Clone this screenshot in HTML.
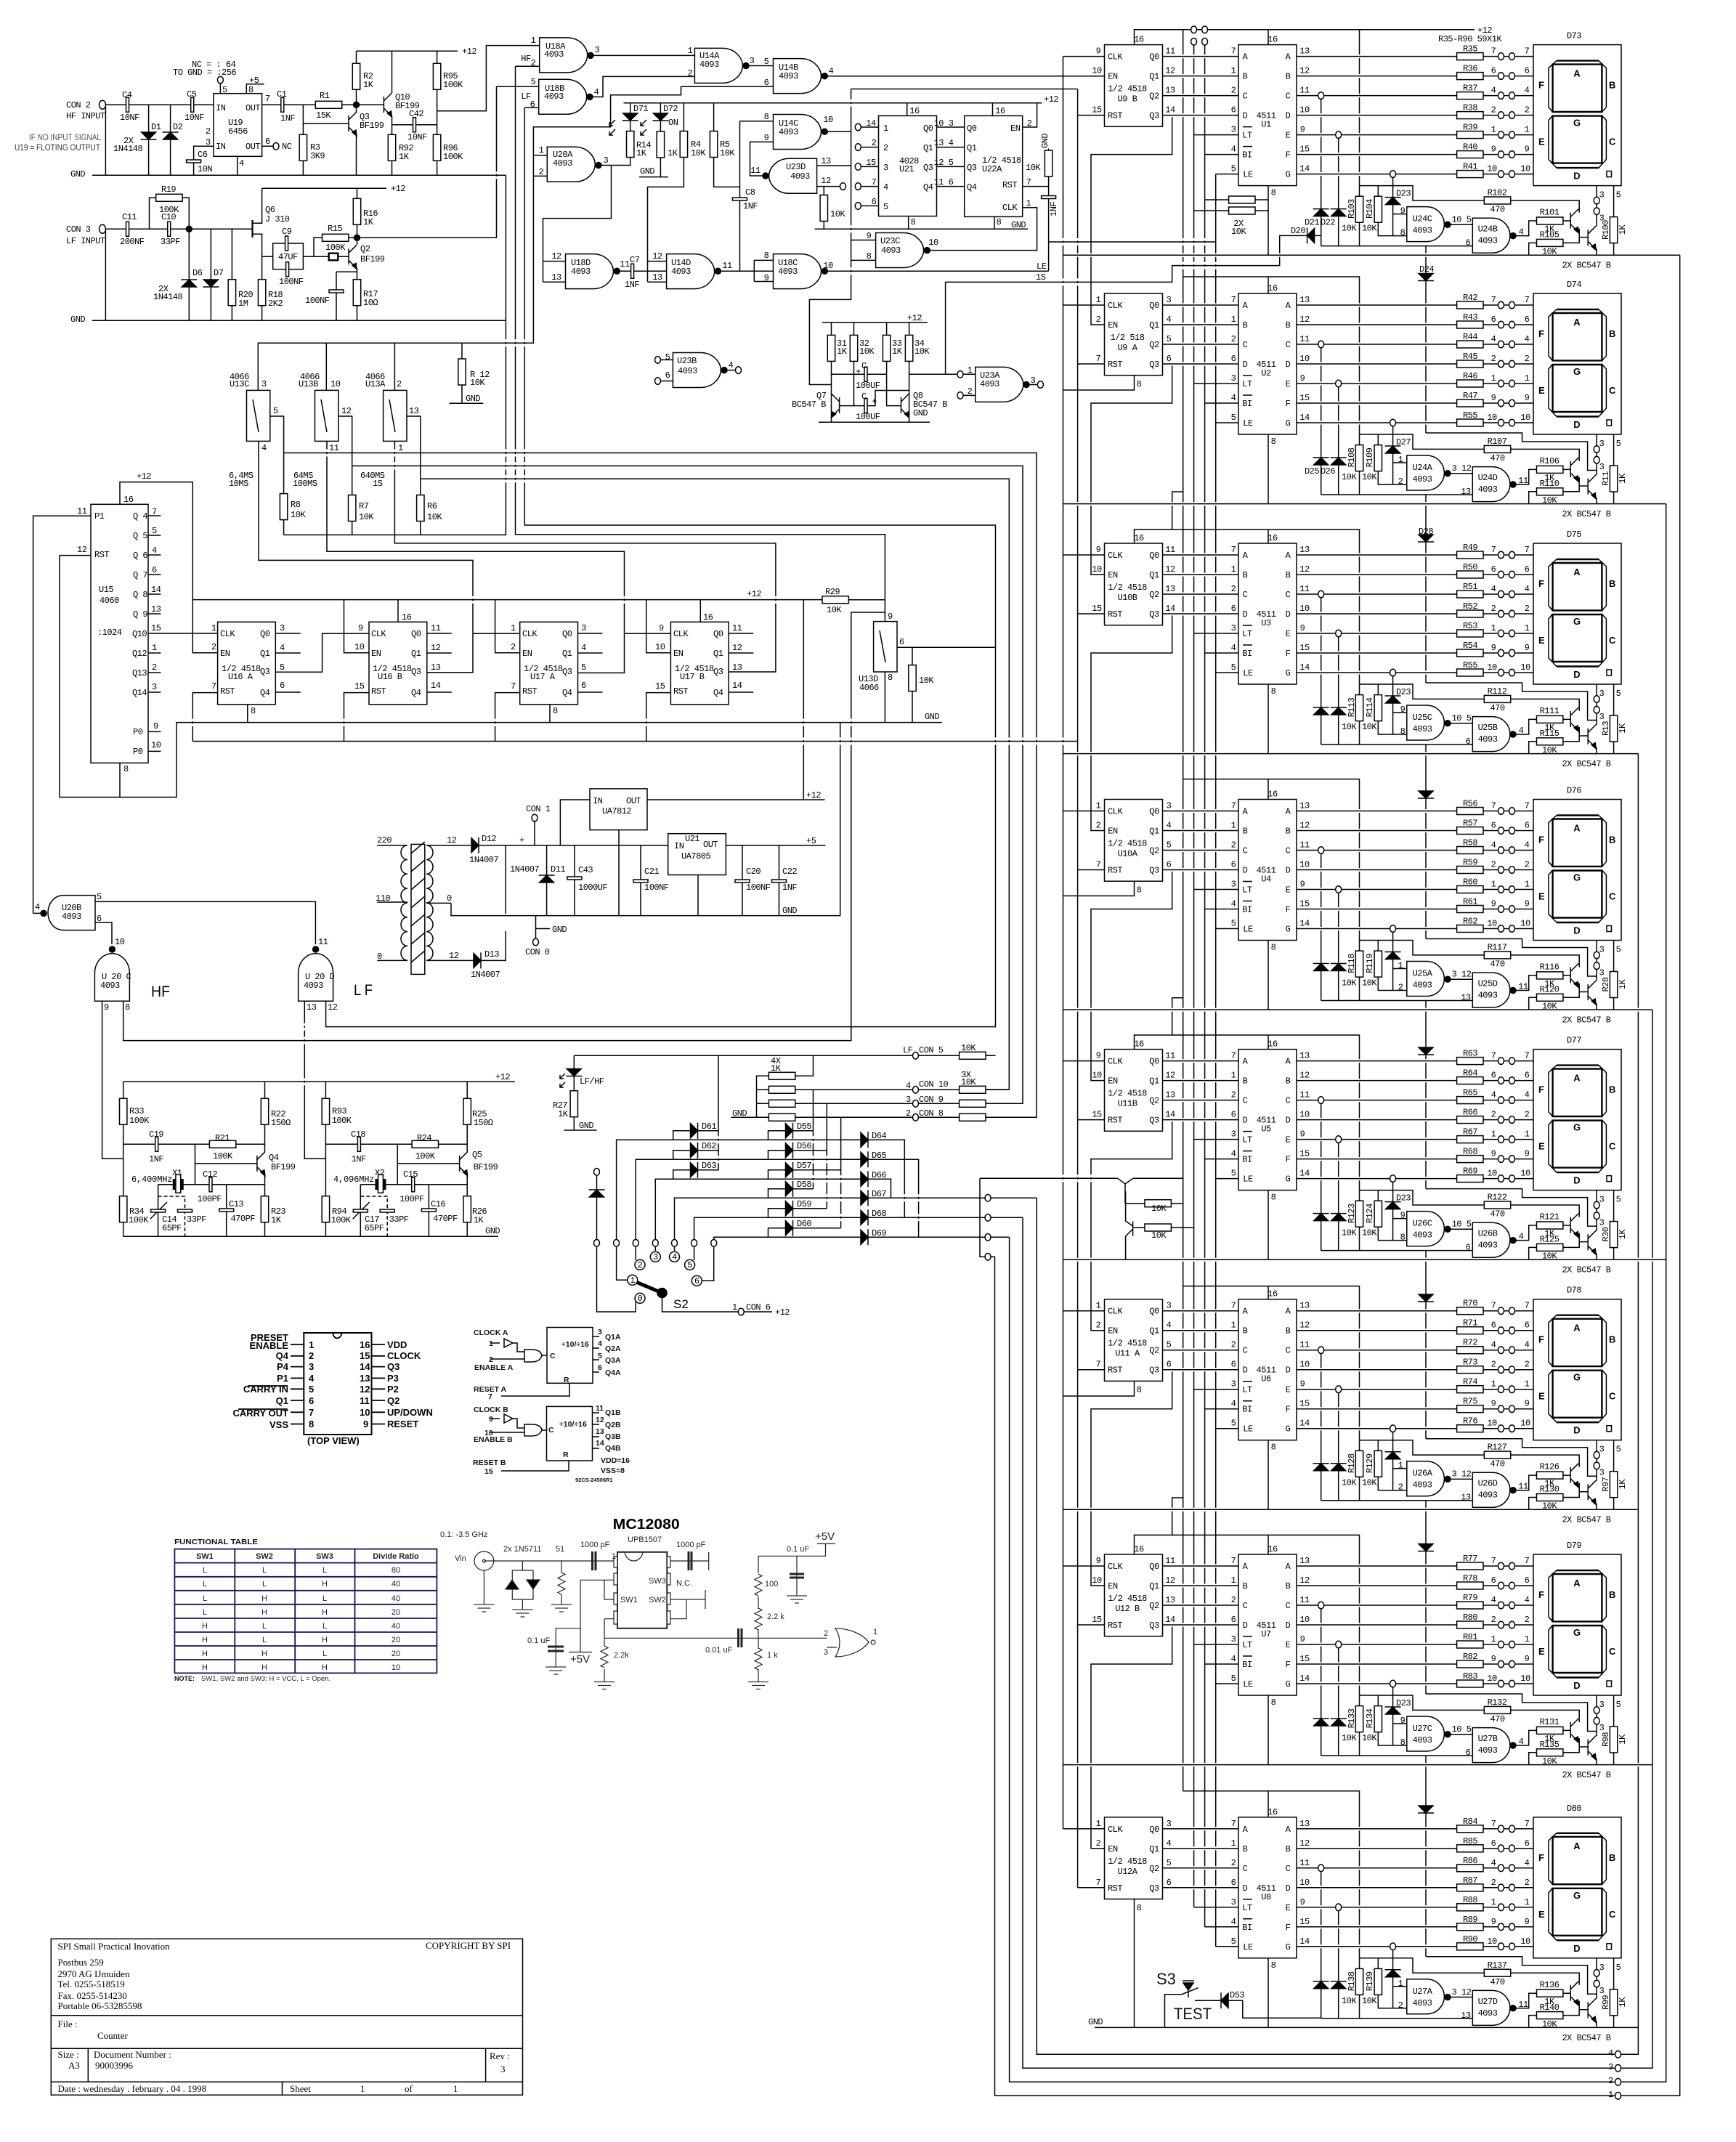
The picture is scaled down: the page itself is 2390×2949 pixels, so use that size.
<!DOCTYPE html>
<html><head><meta charset="utf-8"><title>Counter schematic</title>
<style>
html,body{margin:0;background:#fff}
svg{display:block;background:#fff}
text{font:12px "Liberation Mono",monospace;letter-spacing:-.5px;fill:#000;stroke:none}
.m text,text.m{text-anchor:middle}
.e text,text.e{text-anchor:end}
.b text,text.b{font:bold 13px "Liberation Sans",sans-serif;letter-spacing:0}
.s text,text.s{font:11px "Liberation Sans",sans-serif;letter-spacing:0;fill:#222}
.f text,text.f{font:bold 10.5px "Liberation Sans",sans-serif;letter-spacing:0;fill:#111}
.t text{font:13px "Liberation Serif",serif;letter-spacing:0}
</style></head><body>
<svg xmlns="http://www.w3.org/2000/svg" width="2390" height="2949" viewBox="0 0 2390 2949">
<defs>
<rect id=rv x=-5.2 y=0 width=10.4 height=36 fill=#fff />
<rect id=rh x=0 y=-5 width=36.4 height=10 fill=#fff />
<path id=cv d="M-2-10V10H2V-10Z" fill=#fff />
<path id=ch d="M-10-2H10V2H-10Z" fill=#fff />
<path id=du fill=#000 d="M-10 5H10L0-5ZM-11-5H11" />
<path id=dd fill=#000 d="M-10-5H10L0 5ZM-11 5H11" />
<path id=dr fill=#000 d="M-5-10V10L5 0ZM5-11V11" />
<path id=dl fill=#000 d="M5-10V10L-5 0ZM-5-11V11" />
<g id=q><path d="M0-11V11M0-5L11-16M0 5L11 16"/><path fill=#000 d="M11 17L10 9L5 12Z"/></g>
<g id=q2><path d="M0-11V11M0-5L-11-16M0 5L-11 16"/><path fill=#000 d="M-11 17L-10 9L-5 12Z"/></g>
<path id=g fill=#fff d="M0 0H38C56 0 66 14 66 24S56 48 38 48H0Z" />
<path id=gs fill=#fff d="M0 0H27C42 0 51.6 12 51.6 24S42 48 27 48H0Z" />
<ellipse id=o rx=4 ry=4.8 fill=#fff />
<circle id=p r=4 fill=#000 />
<path id=zz d="M0 0l5 2.5-10 5 10 5-10 5 10 5-10 5 5 2.5" />
<path id=gd stroke=#333 d="M-14 0H14M-9 5H9M-3 10H3" />
<path id=cl d="M0 0a9 10 0 0 0 0 20a9 10 0 0 0 0 20a9 10 0 0 0 0 20a9 10 0 0 0 0 20" />
<path id=cr d="M0 0a9 10 0 0 1 0 20a9 10 0 0 1 0 20a9 10 0 0 1 0 20a9 10 0 0 1 0 20" />

<path id=bd d="M1963 192H2095.6V204H2185.6V243.5H2198" />

<g id=lin>
<path d="M1600 16H1705M1600 43H1705M1600 70H1705M1600 97H1705M1785 16H2006M1785 43H2006M1785 70H2006M1785 97H2006M1785 124H2006M1785 151H2006M1785 178H2006"/>
</g>
<g id=bk>
<path d="M1746 194V289.6M1871.5 0V277M1818.7 75V277M1842.7 129V277M1818.7 277H2027.3M1917.6 183V263H1936.8M1917.6 233H1936.8M1871.5 194H1945V214.4H2043.5M2079.5 214.4H2174.2V231M1897.3 194V263H1917.6M1997 247.7H2027.3M2087 263H2104.7V242.4H2115.5M2151.5 242.4H2162.2M2115.5 272.8H2104.7V289.6M2151.5 272.8H2174.2V253M2174.2 265H2186.2M2198.2 194V250M2198 281V289.6M2221.6 194V289.6M1643.6 124H1705M1658.6 151H1705M1673.7 178H1705M2042 16H2111M2042 43H2111M2042 70H2111M2042 97H2111M2042 124H2111M2042 151H2111M2042 178H2111"/>
<use href=#lin stroke=#fff stroke-width=5 />
<use href=#lin />
<rect x=1520.5 y=0 width=80 height=112.7 fill=#fff />
<rect x=1705 y=0 width=80 height=194 fill=#fff />
<rect x=2111 y=0 width=121 height=194 fill=#fff />
<use href=#rh x=2005.6 y=16 /><use href=#rh x=2005.6 y=43 /><use href=#rh x=2005.6 y=70 /><use href=#rh x=2005.6 y=97 /><use href=#rh x=2005.6 y=124 /><use href=#rh x=2005.6 y=151 /><use href=#rh x=2005.6 y=178 />
<use href=#o x=2066.5 y=16 /><use href=#o x=2081.5 y=16 /><use href=#o x=2066.5 y=43 /><use href=#o x=2081.5 y=43 /><use href=#o x=2066.5 y=70 /><use href=#o x=2081.5 y=70 /><use href=#o x=2066.5 y=97 /><use href=#o x=2081.5 y=97 /><use href=#o x=2066.5 y=124 /><use href=#o x=2081.5 y=124 /><use href=#o x=2066.5 y=151 /><use href=#o x=2081.5 y=151 /><use href=#o x=2066.5 y=178 /><use href=#o x=2081.5 y=178 />
<use href=#o x=1818.7 y=70 /><use href=#o x=1842.7 y=124 /><use href=#o x=1917.6 y=178 />
<use href=#du x=1818.7 y=231 /><use href=#du x=1842.7 y=231 /><use href=#du x=1917.6 y=215 />
<use href=#rv x=1871.5 y=208.6 /><use href=#rv x=1897.3 y=208.6 />
<use href=#rh x=2043.3 y=214.4 /><use href=#rh x=2115.5 y=242.4 /><use href=#rh x=2115.5 y=272.8 />
<use href=#rv x=2221.6 y=237 />
<use href=#gs x=1936.8 y=223 /><use href=#p x=1993 y=247.7 />
<use href=#gs x=2027.3 y=238.6 /><use href=#p x=2083 y=263 />
<use href=#q x=2162.2 y=242 /><use href=#q x=2186.2 y=265.6 />
<use href=#o x=2198.2 y=214.5 /><use href=#o x=2198.2 y=229.2 />
<path stroke-width=2.4 d="M2137.6 27H2205.4V92.4H2137.6ZM2137.6 98H2205.4V163H2137.6ZM2143 22H2201M2143 169.5H2201"/>
<path d="M2143 22L2132 32V86L2137 92M2201 22L2211.4 32V86L2206 92M2137 98L2132 104V158L2143 169.5M2206 98L2211.4 104V158L2201 169.5M1711 113H1724M1711 140H1724"/>
<rect x=2212 y=174 width=6.5 height=8 />
<g class=m>
<text x=1698 y=12>7</text><text x=1698 y=39>1</text><text x=1698 y=66>2</text><text x=1698 y=93>6</text><text x=1698 y=120>3</text><text x=1698 y=147>4</text><text x=1698 y=174>5</text>
<text x=1796 y=12>13</text><text x=1796 y=39>12</text><text x=1796 y=66>11</text><text x=1796 y=93>10</text><text x=1793 y=120>9</text><text x=1796 y=147>15</text><text x=1796 y=174>14</text>
<text x=1714 y=20>A</text><text x=1714 y=47>B</text><text x=1714 y=74>C</text><text x=1714 y=101>D</text><text x=1717 y=128>LT</text><text x=1717 y=155>BI</text><text x=1718 y=182>LE</text>
<text x=1773 y=20>A</text><text x=1773 y=47>B</text><text x=1773 y=74>C</text><text x=1773 y=101>D</text><text x=1773 y=128>E</text><text x=1773 y=155>F</text><text x=1773 y=182>G</text>
<text x=2056 y=12>7</text><text x=2056 y=39>6</text><text x=2056 y=66>4</text><text x=2056 y=93>2</text><text x=2056 y=120>1</text><text x=2056 y=147>9</text><text x=2054 y=174>10</text>
<text x=2102 y=12>7</text><text x=2102 y=39>6</text><text x=2102 y=66>4</text><text x=2102 y=93>2</text><text x=2102 y=120>1</text><text x=2102 y=147>9</text><text x=2100 y=174>10</text>
<text x=1752 y=-4>16</text><text x=1753 y=207>8</text><text x=1743 y=101>4511</text>
<text x=1535 y=20>CLK</text><text x=1532 y=47>EN</text><text x=1535 y=101>RST</text><text x=1589 y=20>Q0</text><text x=1589 y=47>Q1</text><text x=1589 y=74>Q2</text><text x=1589 y=101>Q3</text>
<text x=2061.5 y=230>470</text><text x=2133 y=257>1K</text><text x=2133 y=288>10K</text><text x=1857 y=256>10K</text><text x=1885 y=256>10K</text>
<text x=2205 y=210>3</text><text x=2205 y=242>3</text><text x=2228 y=210>5</text>
<text x=1958 y=259>4093</text><text x=2048 y=273>4093</text>
<text x=2184 y=307>2X BC547 B</text>
<text transform="translate(2237 255)rotate(-90)">1K</text>
</g>
<g class=b><text x=2171 y=44 class=m>A</text><text x=2171 y=112 class=m>G</text><text x=2118 y=60>F</text><text x=2215 y=60>B</text><text x=2118 y=138>E</text><text x=2215 y=138>C</text><text x=2171 y=185 class=m>D</text></g>
</g>
<g id=od class=m>
<text x=1512 y=12>9</text><text x=1510 y=39>10</text><text x=1510 y=93>15</text><text x=1611 y=12>11</text><text x=1611 y=39>12</text><text x=1611 y=66>13</text><text x=1611 y=93>14</text><text x=1568 y=-4>16</text>
<text x=1931 y=232>9</text><text x=1931 y=262>8</text><text x=2012 y=244>10 5</text><text x=2021 y=276>6</text><text x=2094 y=261>4</text>
</g>
<g id=ev class=m>
<text x=1512 y=12>1</text><text x=1512 y=39>2</text><text x=1512 y=93>7</text><text x=1609 y=12>3</text><text x=1609 y=39>4</text><text x=1609 y=66>5</text><text x=1609 y=93>6</text><text x=1568 y=128>8</text>
<text x=1928 y=232>1</text><text x=1928 y=262>2</text><text x=2012 y=244>3 12</text><text x=2018 y=276>13</text><text x=2097 y=261>11</text>
</g>
<g id=os>
<path d="M169.7 1489.3V1702.3M364.5 1489.3V1586M364.5 1617V1702.3M169.7 1575.3H364.5M268.5 1575.3V1630.7M268.5 1601.7H353.9M217.6 1630.7H364.5M217.6 1630.7V1702.3M311.7 1630.7V1702.3M207 1678L230 1655"/>
<path stroke-dasharray="5 3" d="M217.6 1647H254.5V1702.3"/>
<use href=#rv x=169.7 y=1512.3 /><use href=#rv x=169.7 y=1646.7 /><use href=#rv x=364.5 y=1512.3 /><use href=#rv x=364.5 y=1646.7 />
<use href=#cv x=215.7 y=1575.3 /><use href=#rh x=288.4 y=1575.3 /><use href=#q x=353.9 y=1601.7 />
<use href=#cv x=290 y=1630.7 /><use href=#ch x=217.6 y=1667 /><use href=#ch x=254.5 y=1667 /><use href=#ch x=311.7 y=1666 />
<rect x=241.9 y=1617.3 width=6.8 height=25 fill=#fff />
<path stroke-width=3.5 d="M239.5 1623V1638M251 1623V1638"/>
<text x=178 y=1546>100K</text><text x=205 y=1599>1NF</text><text x=293 y=1595>100K</text><text x=271.5 y=1654>100PF</text><text x=317.5 y=1681>470PF</text><text x=177 y=1683>100K</text><text x=223 y=1694>65PF</text><text x=257 y=1682>33PF</text><text x=373 y=1683>1K</text><text x=373 y=1610>BF199</text><text x=373 y=1549>150Ω</text>
</g>
</defs>

<g fill="none" stroke="#000" stroke-width="1.5">
<!-- HF / LF inputs -->
<path d="M145.4 147V241.3M127 241.3H696.6M145 144.3H294M204.6 144.3V241.3M234.6 144.3V241.3M303.4 128.7V114M339.3 128.7V115.7H363.5M326.7 215.3V241.3M294 201.3H266.6V241.3M360.6 201.3H376M360.6 144.3H434.3M470.7 144.3H528.4M417.4 144.3V241.3M417.4 170.3H480M490.5 70.3V154M490.5 186V241.3M490.5 70.3H630M539.5 70.3V128M539.5 160V241.3M539.5 171.7H601.6M601.6 70.3V241.3M601.6 152.7H669.4V62.6H742.7"/>
<ellipse cx=141 cy=144.3 rx=4.5 ry=6 /><ellipse cx=141 cy=315.3 rx=4.5 ry=6 />
<path d="M145.4 318V441.3M127 441.3H696.6M145 315.3H347.5M205.5 315.3V272.3H214.7M251 272.3H260.3V441.3M290.4 315.3V441.3M319.4 315.3V441.3M360.6 259.3H532M360.6 259.3V307.3H347.5M347.5 322.3H360.6V441.3M360.6 353.3H375.7M417.4 353.3H480M432 353.3V327.3H443.5M480 327.3H683.5V119.3H741.7M491.5 259.3V337M491.5 369V441.3M463 374.3H491.5M463 374.3V441.3"/>
<path stroke-width=2.2 d="M347.5 303V327"/>
<rect x=375.7 y=335 width=41.7 height=35.7 />
<rect x=294 y=128.7 width=66.6 height=86.6 fill=#fff />
<use href=#o x=303.4 y=110 /><use href=#o x=380 y=201.3 />
<use href=#cv x=175.5 y=144.3 /><use href=#cv x=264.7 y=144.3 /><use href=#cv x=388.8 y=144.3 /><use href=#cv x=570.5 y=171.7 /><use href=#cv x=175.5 y=315.3 /><use href=#cv x=232.7 y=315.3 /><use href=#cv x=394.6 y=335 /><use href=#cv x=395.6 y=370.7 />
<use href=#ch x=266.6 y=222 /><use href=#ch x=463 y=401 />
<use href=#dd x=204.6 y=187 /><use href=#du x=234.6 y=187 /><use href=#du x=260.3 y=390 /><use href=#dd x=290.4 y=390 />
<use href=#rh x=434.3 y=144.3 /><use href=#rh x=214.7 y=272.3 /><use href=#rh x=443.5 y=327.3 />
<use href=#rv x=417.4 y=185.3 /><use href=#rv x=490.5 y=87.3 /><use href=#rv x=539.5 y=185.3 /><use href=#rv x=601.6 y=87.3 /><use href=#rv x=601.6 y=185.3 /><use href=#rv x=319.4 y=384.7 /><use href=#rv x=360.6 y=384.7 /><use href=#rv x=491.5 y=273.3 /><use href=#rv x=491.5 y=384.7 />
<rect x=452.7 y=348.7 width=12.6 height=9.6 fill=#fff stroke-width=2.4 />
<use href=#q x=480 y=170 /><use href=#q x=528.4 y=144 /><use href=#q x=480 y=353.3 />
<use href=#p x=490.5 y=144.3 /><use href=#p x=260.3 y=315.3 /><use href=#p x=491.5 y=327.3 />

<!-- long wires -->
<path d="M696.4 241.3V736.4H390.6M709.5 91.3V735.7H1218.4V855.6M742.7 91.3H709.5M722.3 148.3H741.7M722.3 148.3V723H1370.5V1413.6H448.6V1379M1064.5 119.2H937.5V130.7H840.6V174.7H734.4V472.3H355.3V537.4M734.4 213.7H753.3M734.4 242.4H753.3M449.3 472.3V537.4M543.4 472.3V537.4M636 472.3V555.3M618.6 555.3H665.3"/>
<!-- gates top -->
<path d="M817 76.4H956.4M816 133.4H830V105.4H956.4M1031 90.5H1064.5M1139 104.7H1520.5M858.5 141.8H1434.4M867.7 141.8V227.5H824M909.4 141.8V243.6M880 243.6H920M941.4 141.8V257.4H891.5V388M982.6 141.8V257.4H1018.5M1018.5 166.7V373.3M1018.5 166.7H1064.5M1064.5 195.4H1032.5V242H1050M1139 181.2H1171.6M1124.6 228H1171.6M1124.6 256.6H1156M1134.3 256.6V315.2M1121.7 315.2H1415M1171.6 122.5V358.4M1171.6 122.5H1483.6M1181.3 175H1209.5M1181.3 202.6H1209.5M1181.3 229.4H1209.5M1181.3 256.6H1209.5M1181.3 283.4H1209.5M1289.4 175H1327.7M1289.4 202.6H1327.7M1289.4 229.4H1327.7M1289.4 256.6H1327.7M1248.7 141.8V159.4M1366.5 141.8V159.4M1250.7 297.6V315.2M1369 298V315.2M1407.7 175H1427.6V141.8M1407.7 256.6H1443.6M1443.6 204.5V373.3M1407.7 285.7H1427.6V344.6H1280M1171.6 330.5H1205.6M1171.6 358.4H1205.6M1171.6 358.4V412.4H1114.4V529.5H1144.5M747.5 359.6H778.5M747.5 388.3H778.5M747.5 359.6V300.6H841.5V227.5M747.5 359.6V388.3M853 373.3H917.6M891.5 359.6H917.6M891.5 388.3H917.6M992 373.3H1064.5M1038.3 358.4V387.5M1038.3 358.4H1064.5M1038.3 387.5H1064.5M1139 373.3H1443.6M1443.6 333H1673.7M1301.6 515.3V388.4H1613.7V365.6H1761.7V324.4H1800M1809 324.4H1818.7M1132 444H1276.8M1144.5 444V581M1175.5 444V558.6M1220.6 444V558.6H1240.5M1251.6 444V581M1144.5 515.3H1220.6M1155.6 558.6H1205V537.5H1251.6M1127 581.2H1280M1251.6 515.3H1342.8M1322 544.4H1342.8M1413 529.5H1432.4M905.5 495.4H926.4M905.5 524.5H926.4M997 509.6H1016.5"/>
<g>
<use href=#g x=742.7 y=51.9 /><use href=#g x=741.7 y=109.3 /><use href=#g x=956.4 y=66.4 /><use href=#g x=1064.5 y=80.6 /><use href=#g x=1064.5 y=157.5 /><use href=#g x=1064.5 y=349.6 /><use href=#g x=1205.6 y=320.5 /><use href=#g x=753.3 y=202.3 /><use href=#g x=778.5 y=349.6 /><use href=#g x=917.6 y=349.6 /><use href=#g x=926.4 y=485.5 /><use href=#g x=1342.8 y=505.4 />
<use href=#g transform="translate(1124.6 218.3)scale(-1 1)" />
<use href=#p x=813 y=76.4 /><use href=#p x=812 y=133.4 /><use href=#p x=1027 y=90.5 /><use href=#p x=1135.3 y=104.7 /><use href=#p x=1135.3 y=181.2 /><use href=#p x=1135.3 y=373.3 /><use href=#p x=1276.3 y=344.6 /><use href=#p x=824 y=227.5 /><use href=#p x=849.3 y=373.3 /><use href=#p x=988.4 y=373.3 /><use href=#p x=997 y=509.6 /><use href=#p x=1413 y=529.5 /><use href=#p x=1053.9 y=242 />
</g>
<use href=#o x=1160.5 y=256.6 /><use href=#o x=1181.3 y=175 /><use href=#o x=1181.3 y=202.6 /><use href=#o x=1181.3 y=229.4 /><use href=#o x=1181.3 y=256.6 /><use href=#o x=1181.3 y=283.4 /><use href=#o x=905.5 y=495.4 /><use href=#o x=905.5 y=524.5 /><use href=#o x=1016.5 y=509.6 /><use href=#o x=1322 y=515.3 /><use href=#o x=1322 y=544.4 /><use href=#o x=1432.4 y=529.5 />
<rect x=1209.5 y=159.4 width=80 height=138.2 fill=#fff /><rect x=1327.7 y=159.4 width=80 height=139 fill=#fff />
<use href=#dd x=867.7 y=161 /><use href=#dd x=909.4 y=161 />
<use href=#rv x=867.7 y=180.5 /><use href=#rv x=909.4 y=181 /><use href=#rv x=941.4 y=180.5 /><use href=#rv x=982.6 y=180.5 /><use href=#rv x=1134.3 y=268.5 /><use href=#rv x=1443.6 y=207 />
<use href=#ch x=1018.5 y=274 /><use href=#ch x=1443.6 y=271.5 /><use href=#cv x=870.6 y=373.3 />
<path d="M847 165l-8 8m0-5v5h5M847 178l-8 8m0-5v5h5M890 165l-8 8m0-5v5h5M890 178l-8 8m0-5v5h5"/>
<use href=#rv x=1144.5 y=461.4 /><use href=#rv x=1175.5 y=461.4 /><use href=#rv x=1220.6 y=461.4 /><use href=#rv x=1251.6 y=461.4 />
<use href=#cv x=1192 y=515.3 /><use href=#cv x=1192 y=558.6 />
<use href=#q2 x=1155.6 y=558 /><use href=#q x=1240.5 y=558 />

<!-- switches -->
<path d="M356 607.5V771.4H651V925.8H587.8M450 607.5V759.3H859.5V926.4H795.5M543.4 607.5V747.9H1067.9V925H1003.2M371.8 573H390.6V736.4M465.9 573H484.7V736.4M560 573H578.8V736.4M390.6 623.5H1427V1538.3H1356.4M484.7 641.4H1408V1519.3H1299M578.8 659.2H1389.3V1500H1356.4M1408 1519.3H1356.4"/>
<rect x=339.5 y=537.4 width=32.3 height=70 fill=#fff /><rect x=433.5 y=537.4 width=32.4 height=70 fill=#fff /><rect x=527.6 y=537.4 width=32.4 height=70 fill=#fff />
<path d="M348 550L356 595M442 550L450 595M536 550L544 595"/>
<use href=#rv x=390.6 y=679.6 /><use href=#rv x=484.7 y=681.5 /><use href=#rv x=578.8 y=681.5 /><use href=#rv x=636 y=494 />

<!-- U15 and counters -->
<path d="M165 694.3V663.6H265.3V898.8H299.6M204 710H221.4M204 737H221.4M204 764H221.4M204 791H221.4M204 818H221.4M204 845H221.4M204 872H300M204 899H221.4M204 926H221.4M204 953H221.4M204 1007.4H221.4M204 1034.4H221.4M125 710.3H45.6V1257.4M125 764.6H82V1097.5H243V994.6H1296.7M165 1050.4V1097.5M265.3 825.6H1132M1168.4 825.7H1218.4M473.5 825.6V898.8H508M681.6 825.6V898.8H715.7M889.7 825.6V898.8H923.4M548 825.6V856.3M964.3 825.6V856.3M299.6 953.6H265.3V1020.5M508 953.6H473.5V1020.5M715.7 953.6H681.6V1020.5M923.4 953.6H889.7V1020.5M265.3 1020.5H1483.6M340.8 969.8V994.6M757 969.8V994.6M379.3 872H413.8M379.3 899H413.8M379.3 953H413.8M379.3 925.3H443.6V872.3H508M587.8 872H621.8M587.8 899H621.8M587.8 953H621.8M651 872.3H715.7M795.5 872H829.5M795.5 899H829.5M795.5 953H829.5M859.5 872.3H923.4M1003.2 872H1037.2M1003.2 899H1037.2M1003.2 953H1037.2M1106.3 825.7V1101M1218.4 925V994.7M1218.4 843H1171.8V1432.6H169.7V1378M1235 891.3H1370.5M1256 891.3V994.7M1156.7 994.7V1260.6H621V1243.4"/>
<rect x=125 y=694.3 width=79 height=356.1 fill=#fff />
<rect x=299.6 y=856.3 width=79.7 height=113.5 fill=#fff /><rect x=508 y=856.3 width=79.8 height=113.5 fill=#fff /><rect x=715.7 y=856.3 width=79.8 height=113.5 fill=#fff /><rect x=923.4 y=856.3 width=79.8 height=113.5 fill=#fff />
<use href=#rh x=1132 y=825.7 />
<rect x=1202.6 y=855.6 width=32.4 height=69.4 fill=#fff /><path d="M1211 868L1219 912"/>
<use href=#rv x=1256 y=915.6 />

<!-- power -->
<path d="M519.3 1163.7H561M519.3 1242H561M519.3 1322.4H561M587 1163.7H648.8M587 1243.4H621M587 1322.4H652.5M660 1163.7H919.7M999.4 1163.7H1136.4M812 1101H771.4V1163.7M891 1101H1135.6M852 1142.6V1260.6M961 1204.5V1260.6M696.2 1163.7V1258M696.2 1282V1322.4H662M752.6 1163.7V1260.6M791 1163.7V1260.6M882 1163.7V1260.6M1022 1163.7V1260.6M1072.5 1163.7V1260.6M736 1130V1163.7M737.5 1260.6V1293M737.5 1278.5H757"/>
<rect x=566 y=1162.4 width=18.8 height=179 fill=#fff />
<path d="M566 1175l18.8-16M566 1200l18.8-16M566 1225l18.8-16M566 1250l18.8-16M566 1275l18.8-16M566 1300l18.8-16M566 1325l18.8-16"/>
<use href=#cl transform="translate(561 1163.7)scale(1 .99)" /><use href=#cl transform="translate(561 1243)scale(1 .99)" />
<use href=#cr transform="translate(587 1163.7)scale(1 .99)" /><use href=#cr transform="translate(587 1243)scale(1 .99)" />
<use href=#dr x=654 y=1163.7 /><use href=#dr x=657 y=1322.4 /><use href=#du x=752.6 y=1210 />
<use href=#o x=736 y=1126 /><use href=#o x=737.5 y=1297 />
<use href=#ch x=791 y=1209 /><use href=#ch x=882 y=1213 /><use href=#ch x=1022 y=1213 /><use href=#ch x=1072.5 y=1213 />
<rect x=812 y=1085.9 width=79 height=56.7 fill=#fff /><rect x=919.7 y=1147.7 width=79.7 height=56.8 fill=#fff />

<!-- U20 gates and oscillators -->
<path d="M131 1241.4H434.4V1300M131 1270H154V1300M45.6 1257.4H56M140.6 1378V1595.3H169.7M419.3 1378V1595.3H448.4M169.7 1489.3H709M169.7 1702.3H686"/>
<path fill=#fff d="M131 1232.6H88C72 1232.6 66 1247 66 1256.6S72 1280.6 88 1280.6H131Z"/>
<path fill=#fff d="M130.4 1378.3V1340C130.4 1324 142 1312.7 154.4 1312.7S178.4 1324 178.4 1340V1378.3Z"/>
<path fill=#fff d="M410.6 1378.3V1340C410.6 1324 422 1312.7 434.6 1312.7S458.6 1324 458.6 1340V1378.3Z"/>
<use href=#p x=60 y=1257.4 /><use href=#p x=154.4 y=1307 /><use href=#p x=434.6 y=1307 />
<use href=#os /><use href=#os x=278.7 />

<!-- selector + diodes -->
<path d="M790.3 1453.3H1320.6M1356.4 1453.3H1370.6M790.3 1453.3V1556M776.5 1556H821.5M989 1453.3V1610.7H961M1119.5 1453.3V1481.3H1094.7M1058.4 1481.3H1041.5V1538.3M1006.5 1538.3H1058.4M1041.5 1500.3H1058.4M1041.5 1519.3H1058.4M1094.7 1500.3H1320.6M1094.7 1519.3H1320.6M1094.7 1538.3H1320.6M1356.4 1500.3H1389.5M1356.4 1519.3H1408M1119.5 1500.3V1636.7M1138.3 1519.3V1663.7M1157.6 1538.3V1690.7M961 1556.7H989M961 1583.7H989M1092 1556.7H1119.5M1092 1583.7H1138.3M1092 1610.7H1157.6M1092 1636.7H1119.5M1092 1663.7H1138.3M1092 1690.7H1157.6M926.7 1569.3V1556.7H950M926.7 1596.3V1583.7H950M926.7 1623.3V1610.7H950M1057.5 1569.3V1556.7H1081M1057.5 1596.3V1583.7H1081M1057.5 1623.3V1610.7H1081M1057.5 1649.3V1636.7H1081M1057.5 1676.3V1663.7H1081M1057.5 1703.3V1690.7H1081M848.6 1711V1569.3H1185M875.2 1711V1596.3H1185M902.3 1711V1623.3H1185M928.5 1711V1649.3H1185M955.6 1711V1676.3H1185M982.7 1711V1703.3H1185M1195 1569.3H1245.3V1676.3M1195 1596.3H1264.6V1703.3M1195 1623.3H1226.5V1649.3M1195 1649.3H1427.3M1195 1676.3H1408M1195 1703.3H1389.6M1349 1622.3V1730.3H1370M1349 1649.3H1356M1349 1676.3H1356M1349 1703.3H1356M1349 1622.3H1538.8M1560 1622.3H1628.4M821.5 1618V1806H875.2V1792M848.6 1716V1762.3H864M875.2 1716V1735M902.3 1716V1722M928.5 1716V1722M955.6 1716V1735M982.7 1716V1763.3H965M911.5 1780V1806H1063"/>
<path stroke-width=5 d="M875.7 1765L911.5 1780"/><circle cx=911.5 cy=1780 r=6.5 fill=#000 />
<use href=#dd x=790.3 y=1476.5 /><use href=#rv x=790.3 y=1501.7 />
<path d="M778 1478l-7 7m0-5v5h5M778 1490l-7 7m0-5v5h5"/>
<use href=#rh x=1058.4 y=1481.3 /><use href=#rh x=1058.4 y=1500.3 /><use href=#rh x=1058.4 y=1519.3 /><use href=#rh x=1058.4 y=1538.3 />
<use href=#rh x=1320.6 y=1453.3 /><use href=#rh x=1320.6 y=1500.3 /><use href=#rh x=1320.6 y=1519.3 /><use href=#rh x=1320.6 y=1538.3 />
<use href=#o x=1260.5 y=1453.3 /><use href=#o x=1260.5 y=1500.3 /><use href=#o x=1260.5 y=1519.3 /><use href=#o x=1260.5 y=1538.3 />
<use href=#dr x=955.5 y=1556.7 /><use href=#dr x=955.5 y=1583.7 /><use href=#dr x=955.5 y=1610.7 />
<use href=#dr x=1086.5 y=1556.7 /><use href=#dr x=1086.5 y=1583.7 /><use href=#dr x=1086.5 y=1610.7 /><use href=#dr x=1086.5 y=1636.7 /><use href=#dr x=1086.5 y=1663.7 /><use href=#dr x=1086.5 y=1690.7 />
<use href=#dr x=1190 y=1569.3 /><use href=#dr x=1190 y=1596.3 /><use href=#dr x=1190 y=1623.3 /><use href=#dr x=1190 y=1649.3 /><use href=#dr x=1190 y=1676.3 /><use href=#dr x=1190 y=1703.3 />
<use href=#du x=821.5 y=1643 /><use href=#o x=821.5 y=1613.3 />
<use href=#o x=821.5 y=1711.3 /><use href=#o x=848.6 y=1711.3 /><use href=#o x=875.2 y=1711.3 /><use href=#o x=902.3 y=1711.3 /><use href=#o x=928.5 y=1711.3 /><use href=#o x=955.6 y=1711.3 /><use href=#o x=982.7 y=1711.3 />
<use href=#o x=1360 y=1649.3 /><use href=#o x=1360 y=1676.3 /><use href=#o x=1360 y=1703.3 /><use href=#o x=1360 y=1730.3 /><use href=#o x=1020.3 y=1806 />
<circle cx=870.7 cy=1762.3 r=7 fill=#fff /><circle cx=881 cy=1741.3 r=7 fill=#fff /><circle cx=902.3 cy=1730.3 r=7 fill=#fff /><circle cx=928.5 cy=1730.3 r=7 fill=#fff /><circle cx=949.6 cy=1741.3 r=7 fill=#fff /><circle cx=959.3 cy=1763.3 r=7 fill=#fff /><circle cx=881 cy=1787.3 r=7 fill=#fff />

<!-- right rails -->
<path d="M1463.5 77.6V2517.8M1483.6 122.8V2598.8M1628.7 40.8V2465.7M1643.6 57V2625.8M1658.6 57V2652.8M1673.7 239.4V2679.8M1463.5 77.6H1520.5M1463.5 420H1520.5M1463.5 764H1520.5M1463.5 1116.5H1520.5M1463.5 1460.6H1520.5M1463.5 1804.7H1520.5M1463.5 2156H1520.5M1463.5 2517.8H1520.5M1483.6 158.6H1520.5M1483.6 501H1520.5M1483.6 845H1520.5M1483.6 1197.5H1520.5M1483.6 1541.6H1520.5M1483.6 1885.7H1520.5M1483.6 2237H1520.5M1483.6 2598.8H1520.5M1613.7 158.6V212.6H1502V447H1520.5M1613.7 501V555H1502V791H1520.5M1613.7 845V899H1502V1143.5H1520.5M1613.7 1197.5V1251.5H1502V1487.6H1520.5M1613.7 1541.6V1595.6H1502V1831.7H1520.5M1613.7 1885.7V1939.7H1502V2183H1520.5M1613.7 2237V2291H1502V2544.8H1520.5M1561.5 61.6V40.8H2030M1871.5 40.8V61.6M1746 40.8V61.6M1628.7 381H1871.5V404M1746 381V404M1628.7 677H1613.7V729M1561.5 748V729H1871.5V748M1746 729V748M1628.7 1072.6H1871.5V1100.5M1746 1072.6V1100.5M1628.7 1373.7H1613.7V1425M1561.5 1444.6V1425H1871.5V1444.6M1746 1425V1444.6M1628.7 1770.6H1871.5V1788.7M1746 1770.6V1788.7M1628.7 2062H1613.7V2113.4M1561.5 2140V2113.4H1871.5V2140M1746 2113.4V2140M1628.7 2465.7H1871.5V2501.8M1746 2465.7V2501.8M1561.5 516.7V537H1463.5M1561.5 1213.2V1233.4H1463.5M1561.5 1901.4V1922H1463.5M1561.5 2614.5V2791.3M1658.6 275H1746M1643.6 290H1746M1963 338.6V596M1963 681V940M1963 1025V1292.5M1963 1377.5V1636.6M1963 1721.6V1980.7M1963 2065.7V2332M1963 2417V2693.8M2312.7 351.2V2885.3H1369.5V1730.3M2293.7 693.6V2866.3H1389.6V1703.3M2275 1390.1V2847.3H1408V1676.3M2255.4 1037.6V2828.3H1427.3V1649.3"/>
<path stroke=#fff stroke-width=5 d="M1467 351.2H2300M1467 693.6H2285M1467 1037.6H2250M1467 1390.1H2270M1467 1734.2H2285M1467 2078.3H2250M1467 2429.6H2270"/>
<path d="M1463.5 351.2H2312.7M1463.5 693.6H2293.7M1463.5 1037.6H2255.4M1463.5 1390.1H2275M1463.5 1734.2H2293.7M1463.5 2078.3H2255.4M1463.5 2429.6H2275M1507 2791.4H2255.4"/>
<use href=#o x=1643.6 y=40.8 /><use href=#o x=1658.6 y=40.8 /><use href=#o x=1643.6 y=57.3 /><use href=#o x=1658.6 y=57.3 />
<use href=#rh x=1691.6 y=275 /><use href=#rh x=1691.6 y=290 />
<use href=#dl x=1804.6 y=324.4 />
<use href=#dd x=1963 y=381.5 /><use href=#dd x=1963 y=741 /><use href=#dd x=1963 y=1094 /><use href=#dd x=1963 y=1447 /><use href=#dd x=1963 y=1787 /><use href=#dd x=1963 y=2130.5 /><use href=#dd x=1963 y=2491 />
<use href=#o x=2227.6 y=2828.3 /><use href=#o x=2227.6 y=2847.3 /><use href=#o x=2227.6 y=2866.3 /><use href=#o x=2227.6 y=2885.3 />
<!-- test transistors -->
<path d="M1538.8 1622.3L1549 1630H1549L1560 1622.3M1549 1630V1656.7H1575.7M1613 1656.7H1628.7M1559.6 1690H1575.7M1613 1690H1642.7M1549.6 1640V1681L1559.6 1688M1549.6 1734V1702L1559.6 1692M1559.6 1681.5V1701.6"/>
<use href=#rh x=1576 y=1656.7 /><use href=#rh x=1576 y=1690 />
<!-- S3 -->
<path d="M1603.5 2791V2745.7H1627L1649.6 2736.7M1645 2754.3H1680.8M1691 2754.3H1710.8V2778.3H1818.7M1636 2736V2750"/>
<use href=#dl x=1686 y=2754.3 />
<path fill=#000 d="M1629 2730H1643L1636 2740Z"/><path d="M1628 2727H1644"/>

<!-- blocks -->
<g transform="translate(0 61.6)"><use href=#bk /><use href=#od /></g>
<g transform="translate(0 404)"><use href=#bk /><use href=#ev /><use href=#bd /></g>
<g transform="translate(0 748)"><use href=#bk /><use href=#od /><use href=#bd /></g>
<g transform="translate(0 1100.5)"><use href=#bk /><use href=#ev /><use href=#bd /></g>
<g transform="translate(0 1444.6)"><use href=#bk /><use href=#od /><use href=#bd /></g>
<g transform="translate(0 1788.7)"><use href=#bk /><use href=#ev /><use href=#bd /></g>
<g transform="translate(0 2140)"><use href=#bk /><use href=#od /><use href=#bd /></g>
<g transform="translate(0 2501.8)"><use href=#bk /><use href=#ev /><use href=#bd /></g>

<!-- crossing gaps -->
<path stroke="#fff" stroke-width="3.4" d="M696.4 467.3v3.5m0 3v3.5M709.5 467.3v3.5m0 3v3.5M722.3 467.3v3.5m0 3v3.5M696.4 618.5v3.5m0 3v3.5M709.5 618.5v3.5m0 3v3.5M722.3 618.5v3.5m0 3v3.5M696.4 636.4v3.5m0 3v3.5M709.5 636.4v3.5m0 3v3.5M722.3 636.4v3.5m0 3v3.5M696.4 654.2v3.5m0 3v3.5M709.5 654.2v3.5m0 3v3.5M722.3 654.2v3.5m0 3v3.5M450 618.5v3.5m0 3v3.5M543.4 618.5v3.5m0 3v3.5M543.4 636.4v3.5m0 3v3.5M683.5 236.3v3.5m0 3v3.5M651 820.7v3.5m0 3v3.5M859.5 820.7v3.5m0 3v3.5M1067.9 820.7v3.5m0 3v3.5M473.5 989.6v3.5m0 3v3.5M681.6 989.6v3.5m0 3v3.5M889.7 989.6v3.5m0 3v3.5M265.3 989.6v3.5m0 3v3.5M1106.3 989.6v3.5m0 3v3.5M1171.8 989.6v3.5m0 3v3.5M1106.3 1015.5v3.5m0 3v3.5M1156.7 1015.5v3.5m0 3v3.5M1171.8 1015.5v3.5m0 3v3.5M1370.5 1015.5v3.5m0 3v3.5M1389.3 1015.5v3.5m0 3v3.5M1408 1015.5v3.5m0 3v3.5M1427 1015.5v3.5m0 3v3.5M1463.5 1015.5v3.5m0 3v3.5M419.3 1408.6v3.5m0 3v3.5M419.3 1427.5v3.5m0 3v3.5M419.3 1484.3v3.5m0 3v3.5M1171.6 136.8v3.5m0 3v3.5M1171.6 310.2v3.5m0 3v3.5M1171.6 368.3v3.5m0 3v3.5M989 1564.3v3.5m0 3v3.5M1119.5 1564.3v3.5m0 3v3.5M989 1591.3v3.5m0 3v3.5M1119.5 1591.3v3.5m0 3v3.5M1138.3 1591.3v3.5m0 3v3.5M1119.5 1618.3v3.5m0 3v3.5M1138.3 1618.3v3.5m0 3v3.5M1157.6 1618.3v3.5m0 3v3.5M1138.3 1644.3v3.5m0 3v3.5M1157.6 1644.3v3.5m0 3v3.5M1245.3 1644.3v3.5m0 3v3.5M1264.6 1644.3v3.5m0 3v3.5M1157.6 1671.3v3.5m0 3v3.5M1264.6 1671.3v3.5m0 3v3.5M1463.5 1617.3v3.5m0 3v3.5M1483.6 1617.3v3.5m0 3v3.5M1502 1617.3v3.5m0 3v3.5M1463.5 383.4v3.5m0 3v3.5M1483.6 383.4v3.5m0 3v3.5M1463.5 328v3.5m0 3v3.5M1483.6 328v3.5m0 3v3.5M1628.7 328v3.5m0 3v3.5M1643.6 328v3.5m0 3v3.5M1658.6 328v3.5m0 3v3.5M1628.7 360.6v3.5m0 3v3.5M1643.6 360.6v3.5m0 3v3.5M1658.6 360.6v3.5m0 3v3.5M1673.7 360.6v3.5m0 3v3.5"/>

<!-- pinout drawings -->
<rect x=418.3 y=1835 width=93.2 height=140 stroke-width=2 fill=#fff />
<path stroke-width=1.8 d="M458 1835c2 10 10 10 13 0M400 1851H418M400 1866.8H418M400 1881.6H418M400 1897.4H418M400 1912.3H418M400 1928H418M400 1944.3H418M400 1960.5H418M511.5 1851H530M511.5 1866.8H530M511.5 1881.6H530M511.5 1897.4H530M511.5 1912.3H530M511.5 1928H530M511.5 1944.3H530M511.5 1960.5H530M341 1908H396M328 1940H396"/>
<rect x=753 y=1827.5 width=63 height=76.8 /><rect x=752.5 y=1936.4 width=63 height=74.6 />
<path d="M675 1849H688M694 1843V1855L706 1849ZM706 1849H712V1861H722M675 1871H722M722 1858V1875H732C742 1875 745 1870 746 1866C745 1862 742 1858 732 1858ZM746 1866H753M816 1840H825M816 1856H825M816 1872H825M816 1889H825M784 1904V1922H690M675 1953H688M694 1947V1959L706 1953ZM706 1953H712V1966H722M675 1972H722M722 1961V1977H732C742 1977 745 1972 746 1968C745 1965 742 1961 732 1961ZM746 1969H753M816 1945H825M816 1961H825M816 1978H825M816 1994H825M783 2011V2025H690"/>
<!-- table -->
<g stroke="#141450" stroke-width="1.8">
<rect x=240.4 y=2132.6 width=361 height=170.8 />
<path d="M240.4 2151.6H601.4M240.4 2170.8H601.4M240.4 2189.8H601.4M240.4 2208.8H601.4M240.4 2228H601.4M240.4 2247H601.4M240.4 2266H601.4M240.4 2285H601.4M323.3 2132.6V2303.4M406.2 2132.6V2303.4M488.5 2132.6V2303.4"/>
</g>
<!-- MC12080 -->
<g stroke="#222" stroke-width="1.2">
<ellipse cx=666.4 cy=2149 rx=13.4 ry=13 /><circle cx=666.4 cy=2149 r=2 />
<path d="M666.4 2149H850M666.4 2162V2209M719.4 2149V2162M705.3 2162H734V2202H705.3ZM719.4 2202V2216M773 2149V2165M773 2195V2209M950 2149H918M950 2149H975.7M975.7 2137V2162M918 2202H971M971 2189V2215M945 2202V2228.7H918M799 2175.3H850M799 2175.3V2274.5M783 2274.5H815M799 2241.8H765.3V2295M832 2175.3V2202H850M832 2228.7H850M832 2228.7V2266M832 2298V2315.5M832 2255.3H1138.4M1044 2142.3V2166M1044 2198V2215M1044 2243V2270M1044 2298V2315.5M1044 2142.3H1136.5V2125.4M1125 2125.4H1150M1097 2142.3V2197M1150 2241.8C1170 2241.8 1188 2250 1196 2261C1188 2272 1170 2281 1150 2281C1158 2268 1158 2254 1150 2241.8ZM1138.4 2268H1152"/>
<path fill=#000 d="M696 2188H714L705 2175ZM725 2175H743L734 2188Z"/>
<rect x=850 y=2136.8 width=68.3 height=105 stroke-width=2 fill=#fff />
<path d="M860 2137c3 16 22 16 25 0"/>
<path fill=#fff d="M845 2143H850V2158H845ZM845 2166H850V2182H845ZM845 2193H850V2209H845ZM845 2218H850V2236H845ZM918.3 2143H923V2158H918.3ZM918.3 2166H923V2182H918.3ZM918.3 2193H923V2209H918.3ZM918.3 2218H923V2236H918.3Z"/>
<use href=#zz x=773 y=2165 /><use href=#zz x=832 y=2266 /><use href=#zz x=1044 y=2167 /><use href=#zz x=1044 y=2214 /><use href=#zz x=1044 y=2269 />
<use href=#gd x=666.4 y=2209 /><use href=#gd x=719.4 y=2216 /><use href=#gd x=773 y=2209 /><use href=#gd x=765.3 y=2295 /><use href=#gd x=832 y=2315.5 /><use href=#gd x=1044 y=2315.5 /><use href=#gd x=1097 y=2197 />
<path stroke-width=3 d="M815.5 2136V2162M820 2136V2162M948 2136V2162M952 2136V2162M1016.5 2242V2268M1021 2242V2268M1087 2167H1107M1087 2172H1107M754 2267H776M754 2273H776"/>
<circle cx=1202 cy=2261 r=3 fill=#fff />
</g>
<!-- title block -->
<rect x=70.3 y=2669.3 width=649.2 height=215 />
<path d="M70.3 2774.7H719.5M70.3 2820.3H719.5M70.3 2866.3H719.5M121.3 2820.3V2866.3M668.6 2820.3V2866.3M388.5 2866.3V2884.3"/>
</g>

<!-- TEXT -->
<g>
<text x=264 y=92>NC = :  64</text><text x=238 y=103>TO GND = :256</text>
<text x=91 y=148>CON 2</text><text x=91 y=163>HF INPUT</text><text x=91 y=319>CON 3</text><text x=91 y=335>LF INPUT</text>
<text x=97 y=243>GND</text><text x=97 y=443>GND</text>
<text x=40 y=193 textLength=99 lengthAdjust=spacingAndGlyphs style="font:11.5px 'Liberation Sans',sans-serif;fill:#554;letter-spacing:0">IF NO INPUT SIGNAL</text><text x=20 y=207 textLength=118 lengthAdjust=spacingAndGlyphs style="font:11.5px 'Liberation Sans',sans-serif;fill:#333;letter-spacing:0">U19 = FLOTING OUTPUT</text>
<text x=168 y=134>C4</text><text x=165 y=165>10NF</text><text x=257 y=133>C5</text><text x=254 y=165>10NF</text><text x=170 y=197>2X</text><text x=156 y=208>1N4148</text><text x=208 y=178>D1</text><text x=238 y=178>D2</text>
<text x=283 y=184>2</text><text x=297 y=152>IN</text><text x=338 y=152>OUT</text><text x=314 y=172>U19</text><text x=314 y=184>6456</text><text x=297 y=205>IN</text><text x=338 y=205>OUT</text><text x=283 y=199>3</text><text x=306 y=127>5</text><text x=342 y=127>8</text><text x=343 y=114>+5</text><text x=365 y=139>7</text><text x=365 y=198>6</text><text x=329 y=228>4</text><text x=388 y=205>NC</text><text x=272 y=236>10N</text><text x=272 y=216>C6</text>
<text x=381 y=133>C1</text><text x=386 y=166>1NF</text><text x=440 y=135>R1</text><text x=435 y=162>15K</text><text x=427 y=206>R3</text><text x=427 y=218>3K9</text><text x=500 y=108>R2</text><text x=500 y=120>1K</text><text x=495 y=164>Q3</text><text x=495 y=176>BF199</text><text x=544 y=137>Q10</text><text x=544 y=149>BF199</text><text x=563 y=160>C42</text><text x=561 y=192>10NF</text><text x=549 y=207>R92</text><text x=549 y=219>1K</text><text x=610 y=108>R95</text><text x=610 y=120>100K</text><text x=610 y=207>R96</text><text x=610 y=219>100K</text><text x=636 y=74>+12</text>
<text x=222 y=264>R19</text><text x=219 y=292>100K</text><text x=168 y=302>C11</text><text x=165 y=336>200NF</text><text x=222 y=302>C10</text><text x=221 y=336>33PF</text><text x=218 y=401>2X</text><text x=211 y=412>1N4148</text><text x=265 y=379>D6</text><text x=294 y=379>D7</text><text x=328 y=409>R20</text><text x=328 y=421>1M</text><text x=369 y=409>R18</text><text x=369 y=421>2K2</text><text x=365 y=292>Q6</text><text x=365 y=305>J 310</text><text x=388 y=322>C9</text><text x=383 y=357>47UF</text><text x=384 y=391>100NF</text><text x=420 y=417>100NF</text><text x=451 y=318>R15</text><text x=448 y=344>100K</text><text x=496 y=346>Q2</text><text x=496 y=360>BF199</text><text x=500 y=297>R16</text><text x=500 y=309>1K</text><text x=500 y=408>R17</text><text x=500 y=420>10Ω</text><text x=538 y=263>+12</text>

<g class=m>
<text x=734 y=59>1</text><text x=734 y=90>2</text><text x=734 y=116>5</text><text x=733 y=147>6</text><text x=724 y=84>HF</text><text x=724 y=136>LF</text><text x=822 y=72>3</text><text x=821 y=130>4</text>
<text x=950 y=73>1</text><text x=950 y=104>2</text><text x=1035 y=87>3</text><text x=1055 y=88>5</text><text x=1055 y=117>6</text><text x=1144 y=101>4</text>
<text x=745 y=210>1</text><text x=745 y=240>2</text><text x=834 y=224>3</text><text x=1055 y=164>8</text><text x=1055 y=193>9</text><text x=1140 y=168>10</text><text x=1040 y=238>11</text><text x=1137 y=225>13</text><text x=1137 y=252>12</text>
<text x=766 y=356>12</text><text x=766 y=385>13</text><text x=860 y=367>11</text><text x=905 y=356>12</text><text x=905 y=385>13</text><text x=1001 y=369>11</text><text x=1055 y=355>8</text><text x=1055 y=386>9</text><text x=1140 y=369>10</text><text x=1196 y=328>9</text><text x=1196 y=356>8</text><text x=1285 y=337>10</text>
<text x=1199 y=173>14</text><text x=1203 y=200>2</text><text x=1199 y=227>15</text><text x=1203 y=254>7</text><text x=1203 y=281>6</text><text x=1299 y=173>10 3</text><text x=1299 y=200>13 4</text><text x=1299 y=227>12 5</text><text x=1299 y=254>11 6</text><text x=1259 y=156>16</text><text x=1377 y=156>16</text><text x=1257 y=309>8</text><text x=1375 y=309>8</text><text x=1417 y=173>2</text><text x=1416 y=254>7</text><text x=1416 y=283>1</text>
<text x=919 y=495>5</text><text x=919 y=520>6</text><text x=1006 y=506>4</text><text x=1335 y=513>1</text><text x=1335 y=542>2</text><text x=1422 y=527>3</text>
</g>
<text x=751 y=67>U18A</text><text x=749 y=78>4093</text><text x=750 y=125>U18B</text><text x=749 y=136>4093</text><text x=963 y=80>U14A</text><text x=963 y=92>4093</text><text x=1072 y=96>U14B</text><text x=1072 y=108>4093</text><text x=1072 y=173>U14C</text><text x=1072 y=185>4093</text><text x=761 y=216>U20A</text><text x=761 y=228>4093</text><text x=786 y=365>U18D</text><text x=786 y=377>4093</text><text x=924 y=365>U14D</text><text x=924 y=377>4093</text><text x=1071 y=365>U18C</text><text x=1071 y=377>4093</text><text x=1212 y=335>U23C</text><text x=1213 y=348>4093</text><text x=1082 y=233>U23D</text><text x=1088 y=246>4093</text><text x=932 y=500>U23B</text><text x=933 y=514>4093</text><text x=1349 y=520>U23A</text><text x=1349 y=532>4093</text>
<text x=872 y=153>D71</text><text x=913 y=153>D72</text><text x=920 y=172>ON</text><text x=876 y=203>R14</text><text x=876 y=214>1K</text><text x=919 y=214>1K</text><text x=951 y=202>R4</text><text x=951 y=214>10K</text><text x=991 y=202>R5</text><text x=991 y=214>10K</text><text x=881 y=239>GND</text><text x=1026 y=268>C8</text><text x=1023 y=287>1NF</text><text x=867 y=361>C7</text><text x=860 y=395>1NF</text><text x=1143 y=298>10K</text><text x=1238 y=225>4028</text><text x=1238 y=236>U21</text><text x=1352 y=224>1/2 4518</text><text x=1352 y=236>U22A</text><text x=1412 y=234>10K</text>
<text x=1216 y=180>1</text><text x=1216 y=207>2</text><text x=1216 y=234>3</text><text x=1216 y=261>4</text><text x=1216 y=288>5</text><text x=1271 y=180>Q0</text><text x=1271 y=207>Q1</text><text x=1271 y=234>Q3</text><text x=1271 y=261>Q4</text><text x=1331 y=180>Q0</text><text x=1331 y=207>Q1</text><text x=1331 y=234>Q3</text><text x=1331 y=261>Q4</text><text x=1391 y=180>EN</text><text x=1380 y=258>RST</text><text x=1380 y=289>CLK</text><text x=1392 y=313>GND</text><text x=1437 y=140>+12</text><text x=1427 y=370>LE</text><text x=1426 y=385>1S</text>
<text transform="translate(1442 204)rotate(-90)">GND</text><text transform="translate(1454 298)rotate(-90)">1NF</text>
<text x=1249 y=441>+12</text><text x=1152 y=476>31</text><text x=1152 y=487>1K</text><text x=1183 y=476>32</text><text x=1183 y=487>10K</text><text x=1228 y=476>33</text><text x=1228 y=487>1K</text><text x=1259 y=476>34</text><text x=1259 y=487>10K</text><text x=1186 y=507>C</text><text x=1178 y=515>+</text><text x=1178 y=534>100UF</text><text x=1186 y=549>C</text><text x=1200 y=556>+</text><text x=1178 y=577>100UF</text><text x=1124 y=548>Q7</text><text x=1090 y=560>BC547 B</text><text x=1257 y=548>Q8</text><text x=1257 y=560>BC547 B</text><text x=1257 y=572>GND</text>

<text x=316 y=522>4066</text><text x=316 y=532>U13C</text><text x=413 y=522>4066</text><text x=411 y=532>U13B</text><text x=503 y=522>4066</text><text x=503 y=532>U13A</text><text x=360 y=532>3</text><text x=455 y=532>10</text><text x=546 y=532>2</text><text x=376 y=569>5</text><text x=470 y=569>12</text><text x=563 y=569>13</text><text x=360 y=620>4</text><text x=453 y=620>11</text><text x=548 y=620>1</text>
<text x=315 y=658>6,4MS</text><text x=315 y=669>10MS</text><text x=404 y=658>64MS</text><text x=403 y=669>100MS</text><text x=496 y=658>640MS</text><text x=513 y=669>1S</text>
<text x=400 y=698>R8</text><text x=400 y=712>10K</text><text x=494 y=700>R7</text><text x=494 y=715>10K</text><text x=588 y=700>R6</text><text x=588 y=715>10K</text><text x=647 y=519>R 12</text><text x=647 y=530>10K</text><text x=641 y=552>GND</text>
<text x=188 y=659>+12</text><text x=170 y=691>16</text><text x=106 y=707>11</text><text x=130 y=714>P1</text><text x=106 y=760>12</text><text x=130 y=767>RST</text><text x=183 y=714>Q 4</text><text x=183 y=741>Q 5</text><text x=183 y=768>Q 6</text><text x=183 y=795>Q 7</text><text x=183 y=822>Q 8</text><text x=183 y=849>Q 9</text><text x=182 y=876>Q10</text><text x=182 y=903>Q12</text><text x=182 y=930>Q13</text><text x=182 y=957>Q14</text><text x=183 y=1011>P0</text><text x=183 y=1038>P0</text><text x=136 y=815>U15</text><text x=137 y=830>4060</text><text x=134 y=874>:1024</text><text x=170 y=1062>8</text>
<text x=209 y=708>7</text><text x=209 y=734>5</text><text x=209 y=761>4</text><text x=209 y=788>6</text><text x=208 y=815>14</text><text x=208 y=842>13</text><text x=208 y=868>15</text><text x=209 y=895>1</text><text x=209 y=922>2</text><text x=209 y=949>3</text><text x=211 y=1003>9</text><text x=208 y=1029>10</text>
<g id=cn>
<text x=303 y=876>CLK</text><text x=303 y=903>EN</text><text x=303 y=955>RST</text><text x=358 y=876>Q0</text><text x=358 y=903>Q1</text><text x=358 y=928>Q3</text><text x=358 y=957>Q4</text><text x=305 y=924>1/2 4518</text><text x=314 y=935>U16 A</text><text x=291 y=868>1</text><text x=291 y=894>2</text><text x=291 y=948>7</text><text x=385 y=868>3</text><text x=385 y=895>4</text><text x=385 y=922>5</text><text x=385 y=947>6</text><text x=345 y=982>8</text>
<text x=511 y=876>CLK</text><text x=511 y=903>EN</text><text x=511 y=955>RST</text><text x=566 y=876>Q0</text><text x=566 y=903>Q1</text><text x=566 y=928>Q3</text><text x=566 y=957>Q4</text><text x=513 y=924>1/2 4518</text><text x=520 y=935>U16 B</text><text x=493 y=868>9</text><text x=488 y=894>10</text><text x=488 y=948>15</text><text x=593 y=868>11</text><text x=593 y=895>12</text><text x=593 y=922>13</text><text x=593 y=947>14</text><text x=553 y=853>16</text>
<text x=719 y=876>CLK</text><text x=719 y=903>EN</text><text x=719 y=955>RST</text><text x=774 y=876>Q0</text><text x=774 y=903>Q1</text><text x=774 y=928>Q3</text><text x=774 y=957>Q4</text><text x=721 y=924>1/2 4518</text><text x=730 y=935>U17 A</text><text x=703 y=868>1</text><text x=703 y=894>2</text><text x=703 y=948>7</text><text x=800 y=868>3</text><text x=800 y=895>4</text><text x=800 y=922>5</text><text x=800 y=947>6</text><text x=761 y=982>8</text>
<text x=927 y=876>CLK</text><text x=927 y=903>EN</text><text x=927 y=955>RST</text><text x=982 y=876>Q0</text><text x=982 y=903>Q1</text><text x=982 y=928>Q3</text><text x=982 y=957>Q4</text><text x=929 y=924>1/2 4518</text><text x=936 y=935>U17 B</text><text x=907 y=868>9</text><text x=902 y=894>10</text><text x=902 y=948>15</text><text x=1008 y=868>11</text><text x=1008 y=895>12</text><text x=1008 y=922>13</text><text x=1008 y=947>14</text><text x=968 y=853>16</text>
</g>
<text x=1028 y=821>+12</text><text x=1136 y=818>R29</text><text x=1138 y=843>10K</text><text x=1222 y=852>9</text><text x=1238 y=887>6</text><text x=1182 y=938>U13D</text><text x=1183 y=950>4066</text><text x=1222 y=936>8</text><text x=1265 y=940>10K</text><text x=1273 y=990>GND</text>
<text x=724 y=1117>CON 1</text><text x=816 y=1106>IN</text><text x=862 y=1106>OUT</text><text x=829 y=1120>UA7812</text><text x=1110 y=1098>+12</text><text x=943 y=1158>U21</text><text x=928 y=1168>IN</text><text x=968 y=1166>OUT</text><text x=938 y=1182>UA7805</text><text x=1110 y=1161>+5</text><text x=663 y=1158>D12</text><text x=646 y=1187>1N4007</text><text x=702 y=1200>1N4007</text><text x=758 y=1200>D11</text><text x=796 y=1201>C43</text><text x=796 y=1225>1000UF</text><text x=887 y=1203>C21</text><text x=887 y=1225>100NF</text><text x=1027 y=1203>C20</text><text x=1027 y=1225>100NF</text><text x=1077 y=1203>C22</text><text x=1077 y=1225>1NF</text><text x=1077 y=1257>GND</text><text x=715 y=1160>+</text><text x=519 y=1160>220</text><text x=517 y=1240>110</text><text x=519 y=1320>0</text><text x=615 y=1240>0</text><text x=615 y=1160>12</text><text x=618 y=1319>12</text><text x=667 y=1317>D13</text><text x=648 y=1345>1N4007</text><text x=760 y=1283>GND</text><text x=723 y=1314>CON 0</text>
<text x=48 y=1252>4</text><text x=133 y=1238>5</text><text x=133 y=1268>6</text><text x=85 y=1253>U20B</text><text x=85 y=1265>4093</text><text x=158 y=1300>10</text><text x=438 y=1300>11</text>
<text x=140 y=1348>U 20 C</text><text x=138 y=1360>4093</text><text x=420 y=1348>U 20 D</text><text x=418 y=1360>4093</text><text x=143 y=1390>9</text><text x=172 y=1390>8</text><text x=422 y=1390>13</text><text x=451 y=1390>12</text>
<text x=208 y=1372 textLength=26 lengthAdjust=spacingAndGlyphs style="font:21px 'Liberation Sans',sans-serif;letter-spacing:0">HF</text><text x=487 y=1370 textLength=26 lengthAdjust=spacingAndGlyphs style="font:21px 'Liberation Sans',sans-serif;letter-spacing:0">L F</text>
<text x=178 y=1533>R33</text><text x=457 y=1533>R93</text><text x=373 y=1537>R22</text><text x=650 y=1537>R25</text><text x=205 y=1565>C19</text><text x=483 y=1565>C18</text><text x=296 y=1570>R21</text><text x=574 y=1570>R24</text><text x=370 y=1597>Q4</text><text x=650 y=1593>Q5</text><text x=237 y=1618>X1</text><text x=516 y=1618>X2</text><text x=181 y=1627 textLength=56>6,400MHz</text><text x=459 y=1627 textLength=56>4,096MHz</text><text x=279 y=1620>C12</text><text x=555 y=1620>C15</text><text x=315 y=1661>C13</text><text x=593 y=1661>C16</text><text x=178 y=1671>R34</text><text x=457 y=1671>R94</text><text x=223 y=1682>C14</text><text x=502 y=1682>C17</text><text x=373 y=1671>R23</text><text x=650 y=1671>R26</text><text x=682 y=1486>+12</text><text x=668 y=1698>GND</text>

<text x=798 y=1492>LF/HF</text><text x=761 y=1525>R27</text><text x=768 y=1537>1K</text><text x=797 y=1553>GND</text>
<text x=1243 y=1449>LF</text><text x=1265 y=1449>CON 5</text><text x=1323 y=1446>10K</text><text x=1061 y=1464>4X</text><text x=1061 y=1474>1K</text><text x=1323 y=1483>3X</text><text x=1323 y=1493>10K</text><text x=1247 y=1498>4</text><text x=1265 y=1496>CON 10</text><text x=1247 y=1517>3</text><text x=1265 y=1517>CON 9</text><text x=1247 y=1536>2</text><text x=1265 y=1536>CON 8</text><text x=1008 y=1536>GND</text>
<text x=966 y=1554>D61</text><text x=966 y=1581>D62</text><text x=966 y=1608>D63</text><text x=1097 y=1554>D55</text><text x=1097 y=1581>D56</text><text x=1097 y=1608>D57</text><text x=1097 y=1634>D58</text><text x=1097 y=1661>D59</text><text x=1097 y=1688>D60</text><text x=1200 y=1567>D64</text><text x=1200 y=1594>D65</text><text x=1200 y=1621>D66</text><text x=1200 y=1647>D67</text><text x=1200 y=1674>D68</text><text x=1200 y=1701>D69</text>
<g class=m><text x=870.7 y=1766>1</text><text x=881 y=1745>2</text><text x=902.3 y=1734>3</text><text x=928.5 y=1734>4</text><text x=949.6 y=1745>5</text><text x=959.3 y=1767>6</text><text x=881 y=1791>0</text></g>
<text x=927 y=1801 style="font:17px 'Liberation Sans',sans-serif;letter-spacing:0">S2</text><text x=1008 y=1803>1</text><text x=1027 y=1803>CON 6</text><text x=1067 y=1810>+12</text>

<!-- per-block labels -->
<text x=2034 y=45>+12</text><text x=1980 y=57>R35-R90 59X1K</text>
<g class=m>
<text x=1705 y=311>2X</text><text x=1705 y=322>10K</text><text x=1787 y=321>D20</text><text x=1964 y=374>D24</text><text x=1963 y=735>D28</text>
</g>
<g class=m transform="translate(0 61.6)"><text x=2024 y=9>R35</text><text x=2024 y=36>R36</text><text x=2024 y=63>R37</text><text x=2024 y=90>R38</text><text x=2024 y=117>R39</text><text x=2024 y=144>R40</text><text x=2024 y=171>R41</text><text x=2167 y=-9>D73</text><text x=1552 y=64>1/2 4518</text><text x=1552 y=78>U9 B</text><text x=1743 y=113>U1</text><text x=2061 y=207>R102</text><text x=2133 y=234>R101</text><text x=2133 y=265>R105</text><text x=1958 y=243>U24C</text><text x=2048 y=257>U24B</text><text x=1932 y=208>D23</text><text x=1806 y=248>D21</text><text x=1828 y=248>D22</text><text transform="translate(1864 226)rotate(-90)">R103</text><text transform="translate(1889 226)rotate(-90)">R104</text><text transform="translate(2214 255)rotate(-90)">R100</text></g>
<g class=m transform="translate(0 404)"><text x=2024 y=9>R42</text><text x=2024 y=36>R43</text><text x=2024 y=63>R44</text><text x=2024 y=90>R45</text><text x=2024 y=117>R46</text><text x=2024 y=144>R47</text><text x=2024 y=171>R55</text><text x=2167 y=-9>D74</text><text x=1552 y=64>1/2  518</text><text x=1552 y=78>U9 A</text><text x=1743 y=113>U2</text><text x=2061 y=207>R107</text><text x=2133 y=234>R106</text><text x=2133 y=265>R110</text><text x=1958 y=243>U24A</text><text x=2048 y=257>U24D</text><text x=1932 y=208>D27</text><text x=1806 y=248>D25</text><text x=1828 y=248>D26</text><text transform="translate(1864 226)rotate(-90)">R108</text><text transform="translate(1889 226)rotate(-90)">R109</text><text transform="translate(2214 255)rotate(-90)">R11</text></g>
<g class=m transform="translate(0 748)"><text x=2024 y=9>R49</text><text x=2024 y=36>R50</text><text x=2024 y=63>R51</text><text x=2024 y=90>R52</text><text x=2024 y=117>R53</text><text x=2024 y=144>R54</text><text x=2024 y=171>R55</text><text x=2167 y=-9>D75</text><text x=1552 y=64>1/2 4518</text><text x=1552 y=78>U10B</text><text x=1743 y=113>U3</text><text x=2061 y=207>R112</text><text x=2133 y=234>R111</text><text x=2133 y=265>R115</text><text x=1958 y=243>U25C</text><text x=2048 y=257>U25B</text><text x=1932 y=208>D23</text><text transform="translate(1864 226)rotate(-90)">R113</text><text transform="translate(1889 226)rotate(-90)">R114</text><text transform="translate(2214 255)rotate(-90)">R13</text></g>
<g class=m transform="translate(0 1100.5)"><text x=2024 y=9>R56</text><text x=2024 y=36>R57</text><text x=2024 y=63>R58</text><text x=2024 y=90>R59</text><text x=2024 y=117>R60</text><text x=2024 y=144>R61</text><text x=2024 y=171>R62</text><text x=2167 y=-9>D76</text><text x=1552 y=64>1/2 4518</text><text x=1552 y=78>U10A</text><text x=1743 y=113>U4</text><text x=2061 y=207>R117</text><text x=2133 y=234>R116</text><text x=2133 y=265>R120</text><text x=1958 y=243>U25A</text><text x=2048 y=257>U25D</text><text transform="translate(1864 226)rotate(-90)">R118</text><text transform="translate(1889 226)rotate(-90)">R119</text><text transform="translate(2214 255)rotate(-90)">R28</text></g>
<g class=m transform="translate(0 1444.6)"><text x=2024 y=9>R63</text><text x=2024 y=36>R64</text><text x=2024 y=63>R65</text><text x=2024 y=90>R66</text><text x=2024 y=117>R67</text><text x=2024 y=144>R68</text><text x=2024 y=171>R69</text><text x=2167 y=-9>D77</text><text x=1552 y=64>1/2 4518</text><text x=1552 y=78>U11B</text><text x=1743 y=113>U5</text><text x=2061 y=207>R122</text><text x=2133 y=234>R121</text><text x=2133 y=265>R125</text><text x=1958 y=243>U26C</text><text x=2048 y=257>U26B</text><text x=1932 y=208>D23</text><text transform="translate(1864 226)rotate(-90)">R123</text><text transform="translate(1889 226)rotate(-90)">R124</text><text transform="translate(2214 255)rotate(-90)">R30</text></g>
<g class=m transform="translate(0 1788.7)"><text x=2024 y=9>R70</text><text x=2024 y=36>R71</text><text x=2024 y=63>R72</text><text x=2024 y=90>R73</text><text x=2024 y=117>R74</text><text x=2024 y=144>R75</text><text x=2024 y=171>R76</text><text x=2167 y=-9>D78</text><text x=1552 y=64>1/2 4518</text><text x=1552 y=78>U11 A</text><text x=1743 y=113>U6</text><text x=2061 y=207>R127</text><text x=2133 y=234>R126</text><text x=2133 y=265>R130</text><text x=1958 y=243>U26A</text><text x=2048 y=257>U26D</text><text transform="translate(1864 226)rotate(-90)">R128</text><text transform="translate(1889 226)rotate(-90)">R129</text><text transform="translate(2214 255)rotate(-90)">R97</text></g>
<g class=m transform="translate(0 2140)"><text x=2024 y=9>R77</text><text x=2024 y=36>R78</text><text x=2024 y=63>R79</text><text x=2024 y=90>R80</text><text x=2024 y=117>R81</text><text x=2024 y=144>R82</text><text x=2024 y=171>R83</text><text x=2167 y=-9>D79</text><text x=1552 y=64>1/2 4518</text><text x=1552 y=78>U12 B</text><text x=1743 y=113>U7</text><text x=2061 y=207>R132</text><text x=2133 y=234>R131</text><text x=2133 y=265>R135</text><text x=1958 y=243>U27C</text><text x=2048 y=257>U27B</text><text x=1932 y=208>D23</text><text transform="translate(1864 226)rotate(-90)">R133</text><text transform="translate(1889 226)rotate(-90)">R134</text><text transform="translate(2214 255)rotate(-90)">R98</text></g>
<g class=m transform="translate(0 2501.8)"><text x=2024 y=9>R84</text><text x=2024 y=36>R85</text><text x=2024 y=63>R86</text><text x=2024 y=90>R87</text><text x=2024 y=117>R88</text><text x=2024 y=144>R89</text><text x=2024 y=171>R90</text><text x=2167 y=-9>D80</text><text x=1552 y=64>1/2 4518</text><text x=1552 y=78>U12A</text><text x=1743 y=113>U8</text><text x=2061 y=207>R137</text><text x=2133 y=234>R136</text><text x=2133 y=265>R140</text><text x=1958 y=243>U27A</text><text x=2048 y=257>U27D</text><text transform="translate(1864 226)rotate(-90)">R138</text><text transform="translate(1889 226)rotate(-90)">R139</text><text transform="translate(2214 255)rotate(-90)">R99</text></g>
<text x=1585 y=1667>10K</text><text x=1585 y=1704>10K</text>
<text x=1592 y=2732 style="font:22px 'Liberation Sans',sans-serif;letter-spacing:0;fill:#112">S3</text><text x=1616 y=2780 textLength=52 lengthAdjust=spacingAndGlyphs style="font:22px 'Liberation Sans',sans-serif;letter-spacing:0;fill:#211">TEST</text><text x=1693 y=2750>D53</text><text x=1498 y=2787>GND</text><text x=2214 y=2830>4</text><text x=2214 y=2849>3</text><text x=2214 y=2868>2</text><text x=2214 y=2887>1</text>
</g>

<!-- pinout text -->
<g class=b>
<text x=397 y=1846 text-anchor=end>PRESET</text><text x=397 y=1857 text-anchor=end>ENABLE</text><text x=397 y=1871 text-anchor=end>Q4</text><text x=397 y=1886 text-anchor=end>P4</text><text x=397 y=1902 text-anchor=end>P1</text><text x=397 y=1917 text-anchor=end>CARRY IN</text><text x=397 y=1950 text-anchor=end>CARRY OUT</text><text x=397 y=1966 text-anchor=end>VSS</text><text x=397 y=1933 text-anchor=end>Q1</text>
<text x=425 y=1856>1</text><text x=425 y=1871>2</text><text x=425 y=1886>3</text><text x=425 y=1902>4</text><text x=425 y=1917>5</text><text x=425 y=1933>6</text><text x=425 y=1949>7</text><text x=425 y=1965>8</text>
<text x=495 y=1856>16</text><text x=495 y=1871>15</text><text x=495 y=1886>14</text><text x=495 y=1902>13</text><text x=495 y=1917>12</text><text x=495 y=1933>11</text><text x=495 y=1949>10</text><text x=500 y=1965>9</text>
<text x=533 y=1856>VDD</text><text x=533 y=1871>CLOCK</text><text x=533 y=1886>Q3</text><text x=533 y=1902>P3</text><text x=533 y=1917>P2</text><text x=533 y=1933>Q2</text><text x=533 y=1949>UP/DOWN</text><text x=533 y=1965>RESET</text>
<text x=423 y=1988>(TOP VIEW)</text>
</g>
<g class=f>
<text x=652 y=1838>CLOCK A</text><text x=673 y=1853>1</text><text x=673 y=1875>2</text><text x=653 y=1886>ENABLE A</text><text x=652 y=1916>RESET A</text><text x=672 y=1926>7</text><text x=652 y=1944>CLOCK B</text><text x=673 y=1957>9</text><text x=667 y=1976>10</text><text x=652 y=1985>ENABLE B</text><text x=651 y=2017>RESET B</text><text x=667 y=2029>15</text>
<text x=773 y=1854>÷10/÷16</text><text x=770 y=1964>÷10/÷16</text><text x=757 y=1870>C</text><text x=755 y=1972>C</text><text x=776 y=1903>R</text><text x=775 y=2006>R</text>
<text x=823 y=1837>3</text><text x=823 y=1853>4</text><text x=823 y=1870>5</text><text x=823 y=1886>6</text><text x=833 y=1844>Q1A</text><text x=833 y=1860>Q2A</text><text x=833 y=1876>Q3A</text><text x=833 y=1893>Q4A</text><text x=820 y=1942>11</text><text x=820 y=1958>12</text><text x=820 y=1974>13</text><text x=820 y=1990>14</text><text x=833 y=1948>Q1B</text><text x=833 y=1965>Q2B</text><text x=833 y=1981>Q3B</text><text x=833 y=1997>Q4B</text><text x=827 y=2014>VDD=16</text><text x=827 y=2028>VSS=8</text>
<text x=792 y=2040 style="font-size:7.5px">92CS-24506R1</text>
</g>

<!-- table text -->
<g>
<text x=240 y=2126 class=f textLength=115 lengthAdjust=spacingAndGlyphs>FUNCTIONAL TABLE</text>
<g class="m s">
<text x=282 y=2146 style="font-weight:bold">SW1</text><text x=364 y=2146 style="font-weight:bold">SW2</text><text x=447 y=2146 style="font-weight:bold">SW3</text><text x=545 y=2146 style="font-weight:bold">Divide Ratio</text>
<text x=282 y=2165>L</text><text x=364 y=2165>L</text><text x=447 y=2165>L</text><text x=545 y=2165>80</text>
<text x=282 y=2184>L</text><text x=364 y=2184>L</text><text x=447 y=2184>H</text><text x=545 y=2184>40</text>
<text x=282 y=2204>L</text><text x=364 y=2204>H</text><text x=447 y=2204>L</text><text x=545 y=2204>40</text>
<text x=282 y=2223>L</text><text x=364 y=2223>H</text><text x=447 y=2223>H</text><text x=545 y=2223>20</text>
<text x=282 y=2242>H</text><text x=364 y=2242>L</text><text x=447 y=2242>L</text><text x=545 y=2242>40</text>
<text x=282 y=2261>H</text><text x=364 y=2261>L</text><text x=447 y=2261>H</text><text x=545 y=2261>20</text>
<text x=282 y=2280>H</text><text x=364 y=2280>H</text><text x=447 y=2280>L</text><text x=545 y=2280>20</text>
<text x=282 y=2299>H</text><text x=364 y=2299>H</text><text x=447 y=2299>H</text><text x=545 y=2299>10</text>
</g>
<text x=240 y=2314 class=f style="font-size:9px">NOTE:</text><text x=277 y=2314 class=s style="font-size:9.5px">SW1, SW2 and SW3: H = VCC, L = Open.</text>
<text x=843.7 y=2105 textLength=92 lengthAdjust=spacingAndGlyphs style="font:bold 20px 'Liberation Sans',sans-serif;letter-spacing:0">MC12080</text>
<g class=s>
<text x=606 y=2116>0.1: -3.5 GHz</text><text x=626 y=2149>Vin</text><text x=693 y=2136>2x 1N5711</text><text x=765 y=2136>51</text><text x=799 y=2130>1000 pF</text><text x=864 y=2123>UPB1507</text><text x=931 y=2130>1000 pF</text><text x=931 y=2183>N.C.</text><text x=893 y=2180>SW3</text><text x=854 y=2206>SW1</text><text x=893 y=2206>SW2</text><text x=726 y=2262>0.1 uF</text><text x=785 y=2289 style="font-size:15px">+5V</text><text x=845 y=2282>2.2k</text><text x=1053 y=2184>100</text><text x=1056 y=2229>2.2 k</text><text x=1056 y=2282>1 k</text><text x=971 y=2275>0.01 uF</text><text x=1083 y=2136>0.1 uF</text><text x=1122 y=2120 style="font-size:15px">+5V</text><text x=1134 y=2252>2</text><text x=1134 y=2278>3</text><text x=1202 y=2250>1</text><text x=842 y=2146>1</text>
</g>
</g>

<!-- title text -->
<g class=t>
<text x=79.5 y=2684>SPI Small Practical Inovation</text><text x=586 y=2683>COPYRIGHT BY SPI</text>
<text x=79.5 y=2706>Postbus 259</text><text x=79.5 y=2722>2970 AG  IJmuiden</text><text x=79.5 y=2736>Tel. 0255-518519</text><text x=79.5 y=2752>Fax. 0255-514230</text><text x=79.5 y=2766>Portable 06-53285598</text>
<text x=79.5 y=2791>File :</text><text x=134 y=2807>Counter</text>
<text x=79.5 y=2833>Size :</text><text x=94 y=2848>A3</text><text x=129 y=2833>Document Number :</text><text x=131 y=2848>90003996</text><text x=674 y=2835>Rev :</text><text x=689 y=2853>3</text>
<text x=79.5 y=2880>Date :  wednesday . february . 04 . 1998</text><text x=399 y=2880>Sheet</text><text x=496 y=2880>1</text><text x=557 y=2880>of</text><text x=624 y=2880>1</text>
</g>
</svg>
</body></html>
